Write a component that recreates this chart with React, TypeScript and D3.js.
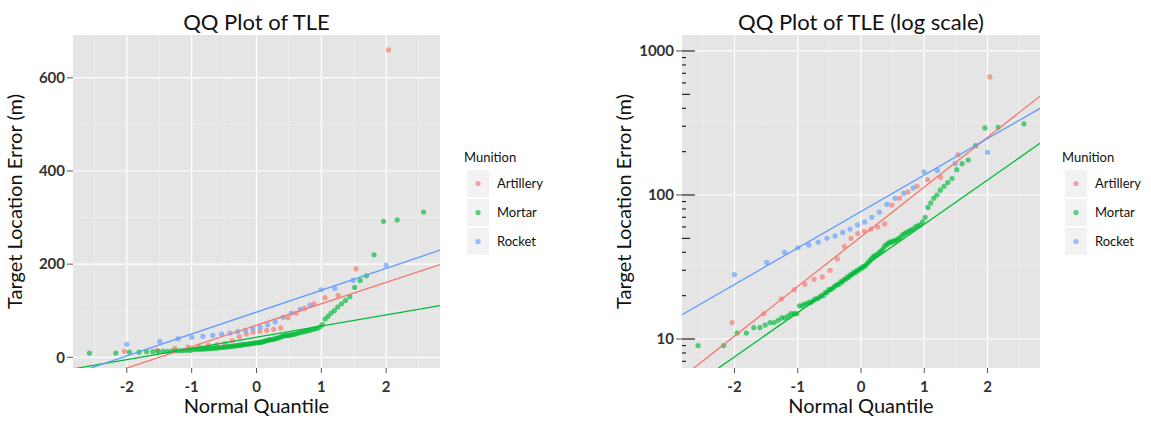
import React from 'react';
import * as d3 from 'd3';

// sorted target location errors (m) per munition
const munitions = ['Artillery', 'Mortar', 'Rocket'];
const artillery = [13, 15, 19, 22, 24, 26, 27, 30, 36, 44, 50, 54, 56, 58, 60, 63, 85, 95, 105, 115, 128, 133, 190, 660];
const mortar = [
  9, 9, 11, 11, 12, 12, 12.5, 13, 13, 13.5, 14, 14, 14.5, 15, 15, 15, 17, 17, 17.5, 17.5,
  18, 18, 18.5, 19, 19, 19.5, 20, 20, 21, 21, 22, 22, 22.5, 23, 23.5, 24, 24, 25, 25, 26,
  26, 27, 27, 28, 28, 29, 29, 30, 30, 31, 31, 32, 32, 33, 34, 35, 36, 37, 38, 38,
  39, 40, 41, 42, 44, 45, 46, 47, 47, 48, 48, 49, 50, 51, 53, 54, 55, 56, 57, 58,
  60, 61, 62, 65, 70, 82, 88, 95, 100, 108, 115, 122, 130, 150, 165, 175, 220, 292, 295, 312,
];
const rocket = [28, 34, 40, 43, 45, 47, 50, 52, 55, 58, 62, 65, 70, 76, 86, 95, 103, 112, 145, 148, 165, 198];
const seriesValues = [artillery, mortar, rocket];

// qq reference lines: [intercept, slope]
const linearFit = [[69, 46], [43, 24], [97, 47]];
const logFit = [[1.71, 0.345], [1.49, 0.307], [1.885, 0.253]];

const xTicks = [-2, -1, 0, 1, 2];
const xMinor = [-2.5, -1.5, -0.5, 0.5, 1.5, 2.5];
const linTicks = [0, 200, 400, 600];
const linMinor = [100, 300, 500];
const logTicks = [10, 100, 1000];
const logMinor = [Math.pow(10, 1.5), Math.pow(10, 2.5)];

const color = d3.scaleOrdinal<string, string>().domain(munitions).range(['#F8766D', '#00BA38', '#619CFF']);
const FONT = "Lato, 'Open Sans', 'DejaVu Sans', sans-serif";

// inverse normal cdf (Acklam)
function qnorm(p: number) {
  const a = [-39.6968302866538, 220.946098424521, -275.928510446969, 138.357751867269, -30.6647980661472, 2.50662827745924];
  const b = [-54.4760987982241, 161.585836858041, -155.698979859887, 66.8013118877197, -13.2806815528857];
  const c = [-0.00778489400243029, -0.322396458041136, -2.40075827716184, -2.54973253934373, 4.37466414146497, 2.93816398269878];
  const d = [0.00778469570904146, 0.32246712907004, 2.445134137143, 3.75440866190742];
  const pl = 0.02425;
  if (p < pl) {
    const q = Math.sqrt(-2 * Math.log(p));
    return (((((c[0] * q + c[1]) * q + c[2]) * q + c[3]) * q + c[4]) * q + c[5]) / ((((d[0] * q + d[1]) * q + d[2]) * q + d[3]) * q + 1);
  }
  if (p > 1 - pl) return -qnorm(1 - p);
  const q = p - 0.5, r = q * q;
  return (((((a[0] * r + a[1]) * r + a[2]) * r + a[3]) * r + a[4]) * r + a[5]) * q / (((((b[0] * r + b[1]) * r + b[2]) * r + b[3]) * r + b[4]) * r + 1);
}

function qqPoints(values: number[]) {
  const n = values.length;
  const sorted = values.slice().sort((a, b) => a - b);
  return sorted.map((v, i) => {
    const p = n <= 10 ? (i + 1 - 3 / 8) / (n + 1 - 3 / 4) : (i + 0.5) / n;
    return { q: qnorm(p), v };
  });
}

type PanelProps = {
  id: string; left: number; right: number; top: number; bottom: number;
  log: boolean; title: string; legendX: number;
};

function Panel({ id, left, right, top, bottom, log, title, legendX }: PanelProps) {
  const x = d3.scaleLinear().domain([-2.83, 2.83]).range([left, right]);
  const y: any = log
    ? d3.scaleLog().domain([6.29, 1291]).range([bottom, top])
    : d3.scaleLinear().domain([-23, 692]).range([bottom, top]);
  const yTicks = log ? logTicks : linTicks;
  const yMinor = log ? logMinor : linMinor;
  const fits = log ? logFit : linearFit;
  const [q0, q1] = x.domain();
  const lineY = (f: number[], q: number) => (log ? Math.pow(10, f[0] + f[1] * q) : f[0] + f[1] * q);
  const midY = (top + bottom) / 2;
  const midX = (left + right) / 2;

  const logTickMarks: { v: number; len: number }[] = [];
  if (log) {
    [1, 10, 100, 1000].forEach((dec) => {
      d3.range(1, 10).forEach((k) => {
        const v = k * dec;
        if (v >= 6.29 && v <= 1291) logTickMarks.push({ v, len: k === 1 ? 13 : k === 5 ? 8 : 4 });
      });
    });
  }

  return (
    <g>
      <defs>
        <clipPath id={id}>
          <rect x={left} y={top} width={right - left} height={bottom - top} />
        </clipPath>
      </defs>
      <rect x={left} y={top} width={right - left} height={bottom - top} fill="#E5E5E5" />
      {xMinor.map((t) => (
        <line key={'xm' + t} x1={x(t)} x2={x(t)} y1={top} y2={bottom} stroke="#F2F2F2" strokeWidth={0.6} />
      ))}
      {yMinor.map((t) => (
        <line key={'ym' + t} x1={left} x2={right} y1={y(t)} y2={y(t)} stroke="#F2F2F2" strokeWidth={0.6} />
      ))}
      {xTicks.map((t) => (
        <line key={'xg' + t} x1={x(t)} x2={x(t)} y1={top} y2={bottom} stroke="#fff" strokeWidth={1.2} />
      ))}
      {yTicks.map((t) => (
        <line key={'yg' + t} x1={left} x2={right} y1={y(t)} y2={y(t)} stroke="#fff" strokeWidth={1.2} />
      ))}
      <g clipPath={`url(#${id})`}>
        {seriesValues.map((vals, gi) =>
          qqPoints(vals).map((p, i) => (
            <circle key={gi + '-' + i} cx={x(p.q)} cy={y(p.v)} r={2.6} fill={color(munitions[gi])} fillOpacity={0.65} />
          ))
        )}
        {fits.map((f, gi) => (
          <line key={'fit' + gi} x1={x(q0)} x2={x(q1)} y1={y(lineY(f, q0))} y2={y(lineY(f, q1))}
            stroke={color(munitions[gi])} strokeWidth={1.3} />
        ))}
      </g>
      {logTickMarks.map((t) => (
        <line key={'lt' + t.v} x1={left} x2={left + t.len} y1={y(t.v)} y2={y(t.v)} stroke="#111" strokeWidth={1.1} />
      ))}
      {/* axes */}
      {xTicks.map((t) => (
        <g key={'xt' + t}>
          <line x1={x(t)} x2={x(t)} y1={bottom} y2={bottom + 5} stroke="#555" strokeWidth={1} />
          <text x={x(t)} y={bottom + 24} textAnchor="middle" fontSize={15} fontWeight={700} fill="#333" fontFamily={FONT}>
            {t < 0 ? '-' + Math.abs(t) : t}
          </text>
        </g>
      ))}
      {yTicks.map((t) => (
        <g key={'yt' + t}>
          <line x1={left - 6} x2={left} y1={y(t)} y2={y(t)} stroke="#555" strokeWidth={1} />
          <text x={left - 8} y={y(t)} dy="0.35em" textAnchor="end" fontSize={15} fontWeight={700} fill="#333" fontFamily={FONT}>
            {t}
          </text>
        </g>
      ))}
      <text x={midX} y={30} textAnchor="middle" fontSize={22} fill="#111" fontFamily={FONT}>{title}</text>
      <text x={midX} y={413} textAnchor="middle" fontSize={20} fill="#111" fontFamily={FONT}>Normal Quantile</text>
      <text transform={`translate(${left - 51},${midY}) rotate(-90)`} textAnchor="middle" fontSize={20} fill="#111" fontFamily={FONT}>
        Target Location Error (m)
      </text>
      {/* legend */}
      <text x={legendX} y={162} fontSize={13} fill="#111" fontFamily={FONT}>Munition</text>
      {munitions.map((m, i) => (
        <g key={'lg' + m} transform={`translate(${legendX},${170 + i * 29})`}>
          <rect x={3} y={0} width={22} height={27} fill="#F2F2F2" />
          <circle cx={14} cy={13.5} r={2.6} fill={color(m)} fillOpacity={0.65} />
          <text x={33} y={13.5} dy="0.35em" fontSize={13} fill="#111" fontFamily={FONT}>{m}</text>
        </g>
      ))}
    </g>
  );
}

export default function App() {
  return (
    <svg width={1151} height={421} style={{ position: 'absolute', left: 0, top: 0, background: '#fff' }}>
      <Panel id="clipA" left={73} right={440} top={35} bottom={368} log={false} title="QQ Plot of TLE" legendX={464} />
      <Panel id="clipB" left={682} right={1040} top={35} bottom={368} log={true} title="QQ Plot of TLE (log scale)" legendX={1062} />
    </svg>
  );
}
